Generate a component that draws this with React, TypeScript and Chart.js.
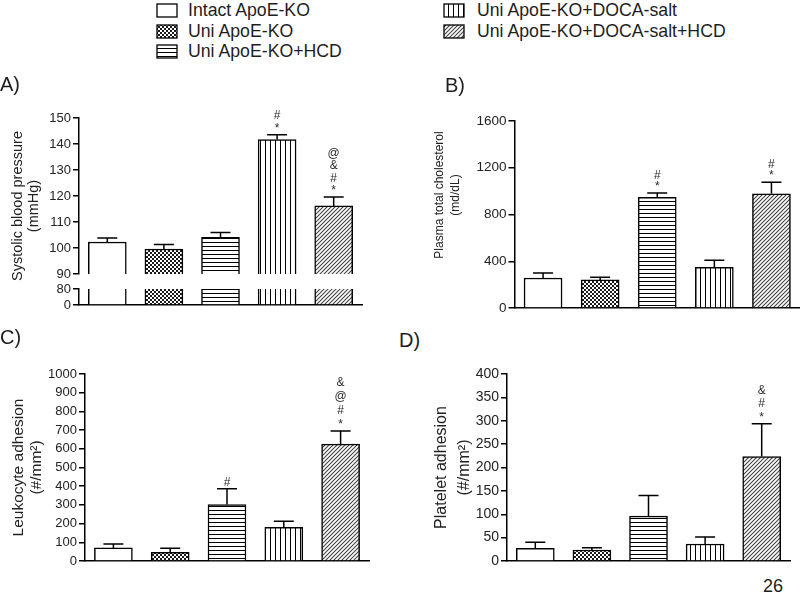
import React, { useEffect, useRef } from 'react';
import { Chart, registerables } from 'chart.js';

Chart.register(...registerables);

const FONT = "'Liberation Sans', Arial, Helvetica, sans-serif";
const INK = '#1e1e1e';

// Groups (same bar order in every panel) and their fills
const groups = [
  'Intact ApoE-KO',
  'Uni ApoE-KO',
  'Uni ApoE-KO+HCD',
  'Uni ApoE-KO+DOCA-salt',
  'Uni ApoE-KO+DOCA-salt+HCD',
];
const fillKinds = ['open', 'checker', 'hlines', 'vlines', 'diag'];

// A) Systolic blood pressure (mmHg) - broken axis
const sbpMean = [102.3, 99.6, 104.1, 141.7, 116.2];
const sbpSem = [1.5, 1.7, 1.9, 1.9, 3.4];
const sbpMarks = [[], [], [], ['*', '#'], ['*', '#', '&', '@']];
const sbpUpperTicks = [90, 100, 110, 120, 130, 140, 150];
const sbpLowerTicks = [0, 80];

// B) Plasma total cholesterol (md/dL)
const cholMean = [257, 240, 946, 349, 977];
const cholSem = [43, 23, 39, 60, 100];
const cholMarks = [[], [], ['*', '#'], [], ['*', '#']];
const cholTicks = [0, 400, 800, 1200, 1600];

// C) Leukocyte adhesion (#/mm2)
const leukMean = [70, 46, 302, 180, 625];
const leukSem = [21, 22, 84, 32, 70];
const leukMarks = [[], [], ['#'], [], ['*', '#', '@', '&']];
const leukTicks = [0, 100, 200, 300, 400, 500, 600, 700, 800, 900, 1000];

// D) Platelet adhesion (#/mm2)
const platMean = [27, 23.6, 96, 36.4, 223.5];
const platSem = [13, 5, 44, 15, 70];
const platMarks = [[], [], [], [], ['*', '#', '&']];
const platTicks = [0, 50, 100, 150, 200, 250, 300, 350, 400];

type PanelSpec = {
  values: number[];
  sem?: number[];
  marks?: string[][];
  ticks: number[];
  tickSize: number;
  title?: string[];
  titleSize?: number;
  titleLine?: number;
  titlePad?: number;
  axisWidth: number;
  padRight: number;
  xBorder: boolean;
  clip?: boolean;
  markGap: number;
};

function makeFill(kind: string): CanvasPattern | string {
  if (kind === 'open') return '#ffffff';
  const c = document.createElement('canvas');
  const x = c.getContext('2d')!;
  if (kind === 'checker') {
    c.width = 4; c.height = 4;
    x.fillStyle = '#fff'; x.fillRect(0, 0, 4, 4);
    x.fillStyle = '#1a1a1a'; x.fillRect(0, 0, 2, 2); x.fillRect(2, 2, 2, 2);
  } else if (kind === 'hlines') {
    c.width = 4; c.height = 4;
    x.fillStyle = '#fff'; x.fillRect(0, 0, 4, 4);
    x.fillStyle = '#000'; x.fillRect(0, 0, 4, 1);
  } else if (kind === 'vlines') {
    c.width = 5; c.height = 5;
    x.fillStyle = '#fff'; x.fillRect(0, 0, 5, 5);
    x.fillStyle = '#000'; x.fillRect(0, 0, 1, 5);
  } else {
    const p = 4;
    c.width = p; c.height = p;
    x.fillStyle = '#fff'; x.fillRect(0, 0, p, p);
    x.strokeStyle = '#444'; x.lineWidth = 1.1;
    x.beginPath();
    x.moveTo(0, p); x.lineTo(p, 0);
    x.moveTo(-1, 1); x.lineTo(1, -1);
    x.moveTo(p - 1, p + 1); x.lineTo(p + 1, p - 1);
    x.stroke();
  }
  return x.createPattern(c, 'repeat')!;
}

function buildChart(canvas: HTMLCanvasElement, p: PanelSpec) {
  const fills = fillKinds.map(makeFill);
  const semPlugin = {
    id: 'semBars',
    afterDatasetsDraw(chart: any) {
      if (!p.sem) return;
      const ctx = chart.ctx as CanvasRenderingContext2D;
      const ys = chart.scales.y;
      const meta = chart.getDatasetMeta(0);
      ctx.save();
      ctx.strokeStyle = '#000';
      ctx.lineWidth = 1.5;
      ctx.fillStyle = '#2a2a2a';
      ctx.font = `12px ${FONT}`;
      ctx.textAlign = 'center';
      ctx.textBaseline = 'alphabetic';
      meta.data.forEach((bar: any, i: number) => {
        const v = p.values[i];
        const yb = ys.getPixelForValue(v);
        const yt = ys.getPixelForValue(v + p.sem![i]);
        ctx.beginPath();
        ctx.moveTo(bar.x, yb);
        ctx.lineTo(bar.x, yt);
        ctx.moveTo(bar.x - 10, yt);
        ctx.lineTo(bar.x + 10, yt);
        ctx.stroke();
        (p.marks?.[i] ?? []).forEach((m, k) => {
          ctx.fillText(m, bar.x, yt - 3 - k * p.markGap);
        });
      });
      ctx.restore();
    },
  };

  return new Chart(canvas, {
    type: 'bar',
    data: {
      labels: groups,
      datasets: [
        {
          data: p.values,
          backgroundColor: fills as any,
          borderColor: '#000',
          borderWidth: 1.5,
          borderSkipped: 'start',
          barThickness: 38,
          ...(p.clip ? { clip: 0 } : {}),
        } as any,
      ],
    },
    options: {
      animation: false,
      responsive: false,
      devicePixelRatio: 1,
      layout: { padding: { top: 12, bottom: 12, left: 0, right: p.padRight } },
      plugins: { legend: { display: false }, tooltip: { enabled: false } },
      scales: {
        x: {
          grid: { display: false },
          ticks: { display: false },
          border: { display: p.xBorder, color: '#000', width: 1.5 },
          afterFit: (s: any) => { s.height = 0; },
        },
        y: {
          min: p.ticks[0],
          max: p.ticks[p.ticks.length - 1],
          afterBuildTicks: (s: any) => { s.ticks = p.ticks.map((v) => ({ value: v })); },
          ticks: {
            color: '#222',
            font: { family: FONT, size: p.tickSize },
            padding: 2,
            autoSkip: false,
            callback: (v: any) => String(v),
          },
          grid: { display: true, drawOnChartArea: false, drawTicks: true, tickLength: 6, color: '#000', lineWidth: 1.5 },
          border: { display: true, color: '#000', width: 1.5 },
          title: p.title
            ? {
                display: true,
                text: p.title,
                color: '#222',
                font: { family: FONT, size: p.titleSize, lineHeight: p.titleLine },
                padding: { top: p.titlePad ?? 0, bottom: 0 },
              }
            : { display: false },
          afterFit: (s: any) => { s.width = p.axisWidth; },
        },
      },
    } as any,
    plugins: [semPlugin as any],
  });
}

function drawSwatch(c: HTMLCanvasElement, kind: string) {
  const ctx = c.getContext('2d')!;
  ctx.clearRect(0, 0, c.width, c.height);
  ctx.fillStyle = makeFill(kind) as any;
  ctx.fillRect(1, 1, c.width - 2, c.height - 2);
  ctx.strokeStyle = '#000';
  ctx.lineWidth = 1.3;
  ctx.strokeRect(1, 1, c.width - 2, c.height - 2);
}

export default function App() {
  const aUp = useRef<HTMLCanvasElement>(null);
  const aLow = useRef<HTMLCanvasElement>(null);
  const bRef = useRef<HTMLCanvasElement>(null);
  const cRef = useRef<HTMLCanvasElement>(null);
  const dRef = useRef<HTMLCanvasElement>(null);
  const swatches = useRef<(HTMLCanvasElement | null)[]>([]);

  useEffect(() => {
    const charts = [
      buildChart(aUp.current!, {
        values: sbpMean, sem: sbpSem, marks: sbpMarks, ticks: sbpUpperTicks, tickSize: 13,
        axisWidth: 79, padRight: 8, xBorder: false, markGap: 12.5,
      }),
      buildChart(aLow.current!, {
        values: sbpMean, ticks: sbpLowerTicks, tickSize: 13,
        axisWidth: 79, padRight: 8, xBorder: true, clip: true, markGap: 12,
      }),
      buildChart(bRef.current!, {
        values: cholMean, sem: cholSem, marks: cholMarks, ticks: cholTicks, tickSize: 13.5,
        axisWidth: 94.5, padRight: 0, xBorder: true, markGap: 11,
      }),
      buildChart(cRef.current!, {
        values: leukMean, sem: leukSem, marks: leukMarks, ticks: leukTicks, tickSize: 13,
        title: ['Leukocyte adhesion', '(#/mm²)'], titleSize: 15.5, titleLine: 1.16, titlePad: 10,
        axisWidth: 85, padRight: 8, xBorder: true, markGap: 14,
      }),
      buildChart(dRef.current!, {
        values: platMean, sem: platSem, marks: platMarks, ticks: platTicks, tickSize: 14,
        title: ['Platelet adhesion', '(#/mm²)'], titleSize: 16, titleLine: 1.47, titlePad: 9.75,
        axisWidth: 87, padRight: 8, xBorder: true, markGap: 13.5,
      }),
    ];
    swatches.current.forEach((c, i) => { if (c) drawSwatch(c, fillKinds[i]); });
    return () => charts.forEach((ch) => ch.destroy());
  }, []);

  const legendRows = [10, 31, 51];
  const abs = (left: number, top: number): React.CSSProperties => ({ position: 'absolute', left, top });
  const rotated = (cx: number, cy: number, size: number, lh: number): React.CSSProperties => ({
    position: 'absolute', left: cx, top: cy, transform: 'translate(-50%, -50%) rotate(-90deg)',
    whiteSpace: 'nowrap', textAlign: 'center', fontSize: size, lineHeight: `${lh}px`, color: '#222',
  });

  return (
    <div
      style={{
        position: 'fixed', left: 0, top: 0, width: 800, height: 598, background: '#fff',
        overflow: 'hidden', fontFamily: FONT, color: INK,
      }}
    >
      <canvas ref={aUp} width={370} height={180} style={abs(0, 106)} />
      <canvas ref={aLow} width={370} height={40} style={abs(0, 277)} />
      <canvas ref={bRef} width={380} height={211} style={abs(420, 109)} />
      <canvas ref={cRef} width={377} height={211} style={abs(0, 362)} />
      <canvas ref={dRef} width={378} height={211} style={abs(420, 362)} />

      {groups.map((g, i) => {
        const col = i < 3 ? 0 : 1;
        const row = i < 3 ? i : i - 3;
        const sx = col === 0 ? 156 : 443;
        const tx = col === 0 ? 188 : 477;
        const cy = legendRows[row];
        return (
          <React.Fragment key={g}>
            <canvas
              ref={(el) => { swatches.current[i] = el; }}
              width={22}
              height={15}
              style={abs(sx, cy - 7.5)}
            />
            <div style={{ ...abs(tx, cy - 10), fontSize: 17.7, lineHeight: '20px', whiteSpace: 'nowrap' }}>{g}</div>
          </React.Fragment>
        );
      })}

      <div style={rotated(25, 206, 14.5, 15.5)}>
        Systolic blood pressure
        <br />
        (mmHg)
      </div>
      <div style={rotated(447, 195, 12, 16)}>
        Plasma total cholesterol
        <br />
        (md/dL)
      </div>

      <div style={{ ...abs(0, 72), fontSize: 20, lineHeight: '24px' }}>A)</div>
      <div style={{ ...abs(445, 73), fontSize: 20, lineHeight: '24px' }}>B)</div>
      <div style={{ ...abs(0, 325), fontSize: 20, lineHeight: '24px' }}>C)</div>
      <div style={{ ...abs(399, 328), fontSize: 20, lineHeight: '24px' }}>D)</div>
      <div style={{ ...abs(763, 575), fontSize: 18, lineHeight: '22px' }}>26</div>
    </div>
  );
}
